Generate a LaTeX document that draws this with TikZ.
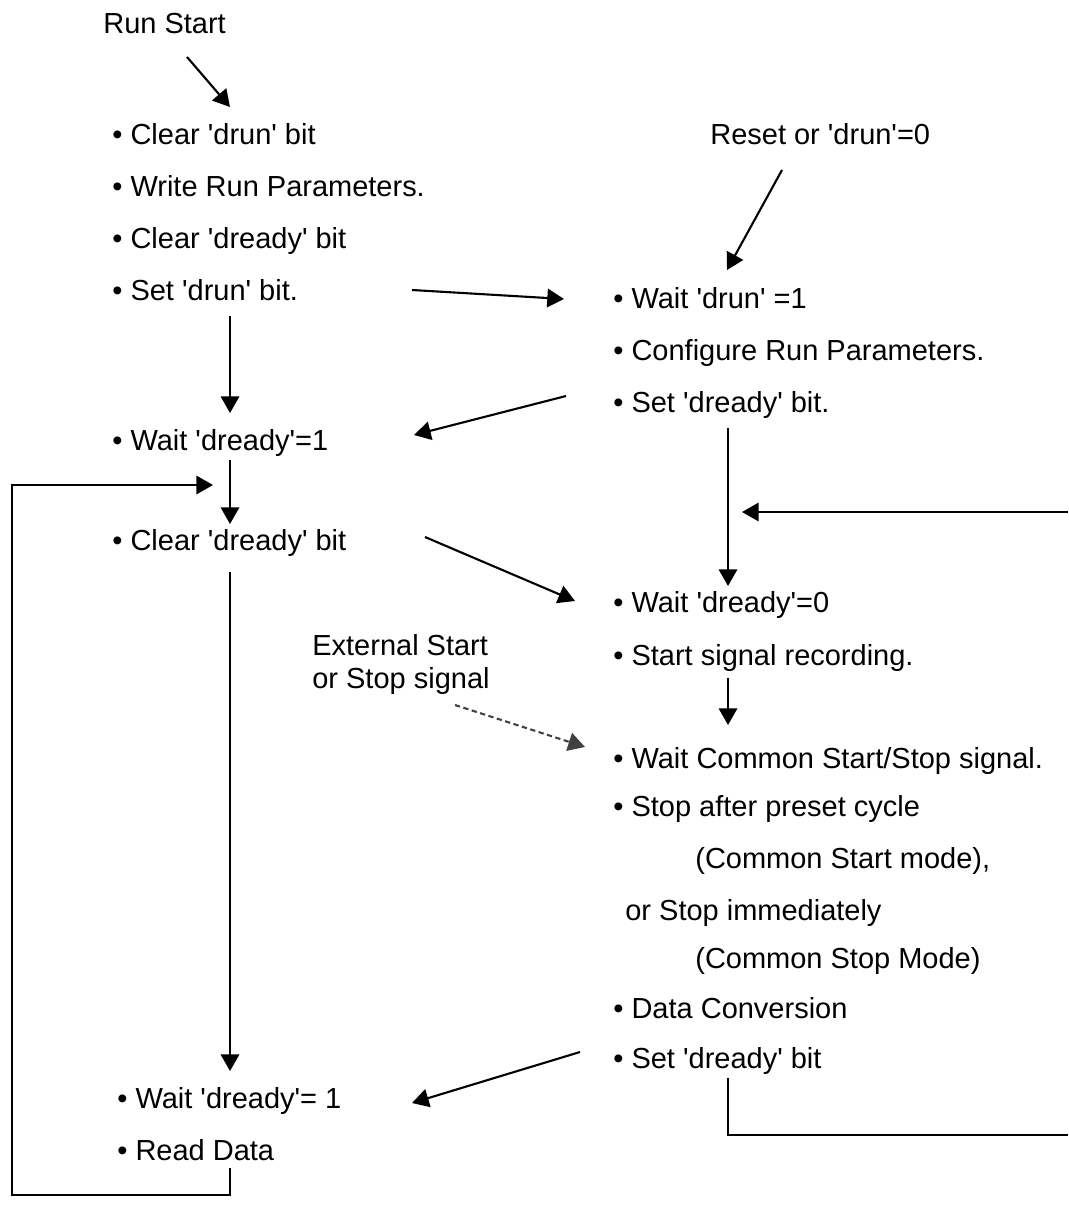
\documentclass[tikz,border=0pt]{standalone}
\usepackage{fontspec}
\setmainfont{Liberation Sans}
\usetikzlibrary{arrows.meta}
\newcommand{\sq}{\textquotesingle}
\tikzset{
  txt/.style={anchor=base west,inner sep=0pt,font=\fontsize{16.5}{19}\selectfont},
  flow/.style={-{Triangle[length=9.5pt,width=10.5pt]},line width=1.2pt},
  sig/.style={flow,densely dashed,black!75}
}
\begin{document}
\begin{tikzpicture}[x=0.02cm,y=-0.02cm]
      \useasboundingbox (0,0) rectangle (1068,1206);
      % host side
      \node[txt] (runstart) at (103,34) {Run Start};
      \node[txt] (clrdrun) at (112,145) {• Clear \sq drun\sq{} bit};
      \node[txt] (wrpar) at (112,196) {• Write Run Parameters.};
      \node[txt] (clrdready) at (112,248) {• Clear \sq dready\sq{} bit};
      \node[txt] (setdrun) at (112,300) {• Set \sq drun\sq{} bit.};
      \node[txt] (waitready) at (112,450) {• Wait \sq dready\sq=1};
      \node[txt] (clrready) at (112,550) {• Clear \sq dready\sq{} bit};
      \node[txt] (waitready2) at (117,1108) {• Wait \sq dready\sq= 1};
      \node[txt] (readdata) at (117,1160) {• Read Data};
      % module side
      \node[txt] (reset) at (710,145) {Reset or \sq drun\sq=0};
      \node[txt] (waitdrun) at (613,308) {• Wait \sq drun\sq{} =1};
      \node[txt] (confpar) at (613,360) {• Configure Run Parameters.};
      \node[txt] (setready) at (613,412) {• Set \sq dready\sq{} bit.};
      \node[txt] (waitzero) at (613,612) {• Wait \sq dready\sq=0};
      \node[txt] (startrec) at (613,665) {• Start signal recording.};
      \node[txt] (waitcs) at (613,768) {• Wait Common Start/Stop signal.};
      \node[txt] (stopcyc) at (613,816) {• Stop after preset cycle};
      \node[txt] (csmode) at (695,868) {(Common Start mode),};
      \node[txt] (stopimm) at (625,920) {or Stop immediately};
      \node[txt] (cstmode) at (695,968) {(Common Stop Mode)};
      \node[txt] (dataconv) at (613,1018) {• Data Conversion};
      \node[txt] (setready2) at (613,1068) {• Set \sq dready\sq{} bit};
      \node[txt,align=left,anchor=north west] (extsig) at (312,634) {External Start\\or Stop signal};
      % connector ends
      \coordinate (rs1) at (187,57);  \coordinate (rs2) at (230,107);
      \coordinate (rd1) at (782,170); \coordinate (rd2) at (727,270);
      \coordinate (d1) at (412,290);  \coordinate (d2) at (564,299);
      \coordinate (l1) at (230,316);  \coordinate (l2) at (230,413);
      \coordinate (s1) at (566,396);  \coordinate (s2) at (414,435);
      \coordinate (r1) at (728,428);  \coordinate (r2) at (728,586);
      \coordinate (fb1) at (1068,512); \coordinate (fb2) at (742,512);
      \coordinate (l3) at (230,460);  \coordinate (l4) at (230,524);
      \coordinate (c1) at (425,537);  \coordinate (c2) at (575,601);
      \coordinate (r3) at (728,678);  \coordinate (r4) at (728,725);
      \coordinate (e1) at (455,705);  \coordinate (e2) at (585,747);
      \coordinate (l5) at (230,572);  \coordinate (l6) at (230,1071);
      \coordinate (sb1) at (580,1052); \coordinate (sb2) at (412,1103);
      \coordinate (lb1) at (230,1168); \coordinate (lb2) at (213,485);
      \coordinate (rb1) at (728,1078); \coordinate (rb2) at (1068,1135);
      \begin{scope}[flow]
        \draw (rs1) -- (rs2);
        \draw (rd1) -- (rd2);
        \draw (d1) -- (d2);
        \draw (l1) -- (l2);
        \draw (s1) -- (s2);
        \draw (r1) -- (r2);
        \draw (fb1) -- (fb2);
        \draw (l3) -- (l4);
        \draw (c1) -- (c2);
        \draw (r3) -- (r4);
        \draw (l5) -- (l6);
        \draw (sb1) -- (sb2);
        \draw (lb1) |- (12,1195) |- (lb2);
      \end{scope}
      \draw[sig] (e1) -- (e2);
      \draw[line width=1.2pt] (rb1) |- (rb2);
    \end{tikzpicture}
\end{document}
